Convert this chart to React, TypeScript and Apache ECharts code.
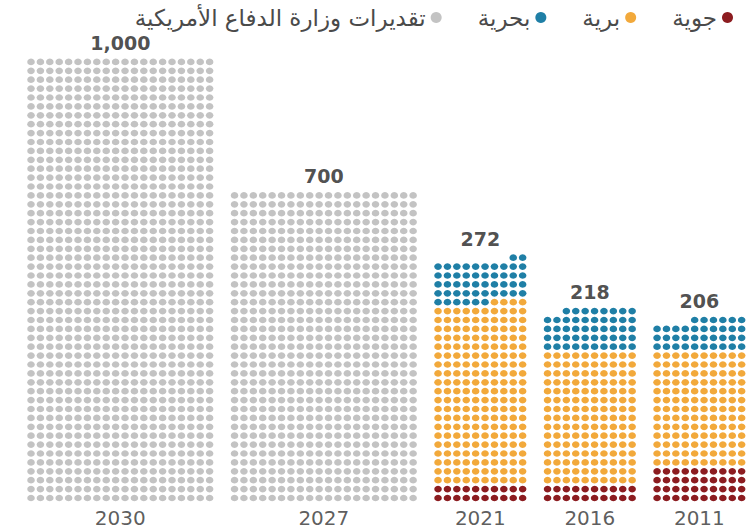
import React, { useEffect, useRef } from "react";
import * as echarts from "echarts";

// ---- data ----
const years = ["2030", "2027", "2021", "2016", "2011"];
const dotsPerRow = [20, 20, 10, 10, 10];
const air = [0, 0, 20, 20, 40];
const land = [0, 0, 204, 150, 130];
const naval = [0, 0, 48, 48, 36];
const estimate = [1000, 700, 0, 0, 0];
const totalLabels = ["1,000", "700", "272", "218", "206"];

const seriesNames = ["جوية", "برية", "بحرية", "تقديرات وزارة الدفاع الأمريكية"];
const seriesColors = ["#8c1c20", "#f2a93b", "#1f7fa6", "#c3c3c3"];
const legendOrder = ["تقديرات وزارة الدفاع الأمريكية", "بحرية", "برية", "جوية"];

// ---- layout (in dot-slot units) ----
const W = 748;
const H = 529;
const PX_X = 9.4; // px per dot slot horizontally
const PX_Y = 8.9; // px per dot row vertically
const BASE_Y = 498; // px of row 0
const FIRST_SLOT = 3.3;
const GAP = 2.65;

export default function App() {
  const ref = useRef<HTMLDivElement>(null);

  useEffect(() => {
    if (!ref.current) return;
    const chart = echarts.init(ref.current, undefined, { renderer: "svg" });

    const starts: number[] = [];
    let s = FIRST_SLOT;
    dotsPerRow.forEach((w) => {
      starts.push(s);
      s += w - 1 + GAP;
    });

    const layers = [air, land, naval, estimate];
    const dots: number[][][] = layers.map(() => []);
    const topRows: number[] = [];
    years.forEach((_, c) => {
      const w = dotsPerRow[c];
      let idx = 0;
      layers.forEach((layer, li) => {
        for (let k = 0; k < layer[c]; k++, idx++) {
          const row = Math.floor(idx / w);
          const col = w - 1 - (idx % w);
          dots[li].push([starts[c] + col, row]);
        }
      });
      topRows.push(Math.ceil(idx / w) - 1);
    });

    const centers = years.map((_, c) => starts[c] + (dotsPerRow[c] - 1) / 2);

    const dotSeries = seriesNames.map((name, i) => ({
      name,
      type: "scatter",
      data: dots[i],
      symbol: "circle",
      symbolSize: [7.6, 6.6],
      itemStyle: { color: seriesColors[i], opacity: 1 },
      silent: true,
    }));

    const yearSeries = {
      name: "years",
      type: "scatter",
      silent: true,
      symbolSize: 1,
      itemStyle: { color: "rgba(0,0,0,0)" },
      data: years.map((y, c) => ({ name: y, value: [centers[c], -2.25] })),
      label: {
        show: true,
        position: "inside",
        formatter: "{b}",
        fontFamily: "DejaVu Sans",
        fontSize: 20,
        color: "#333",
      },
    };

    const totalSeries = {
      name: "totals",
      type: "scatter",
      silent: true,
      symbolSize: 1,
      itemStyle: { color: "rgba(0,0,0,0)" },
      data: totalLabels.map((t, c) => ({ name: t, value: [centers[c], topRows[c] + 2.15] })),
      label: {
        show: true,
        position: "inside",
        formatter: "{b}",
        fontFamily: "DejaVu Sans",
        fontWeight: "bold",
        fontSize: 19,
        color: "#222",
      },
    };

    chart.setOption({
      animation: false,
      backgroundColor: "#ffffff",
      grid: { left: 0, right: 0, top: 0, bottom: 0, containLabel: false },
      xAxis: {
        type: "value",
        min: 0,
        max: W / PX_X,
        show: false,
      },
      yAxis: {
        type: "value",
        min: -(H - BASE_Y) / PX_Y,
        max: BASE_Y / PX_Y,
        show: false,
      },
      legend: {
        data: legendOrder,
        align: "right",
        right: 10,
        top: 1,
        icon: "circle",
        itemWidth: 11,
        itemHeight: 11,
        itemGap: 36,
        selectedMode: false,
        textStyle: { fontFamily: "DejaVu Sans", fontSize: 23, color: "#4a4a4a" },
      },
      series: [...dotSeries, yearSeries, totalSeries],
    });

    return () => chart.dispose();
  }, []);

  return (
    <div
      ref={ref}
      style={{ position: "absolute", left: 0, top: 0, width: W, height: H }}
    />
  );
}
